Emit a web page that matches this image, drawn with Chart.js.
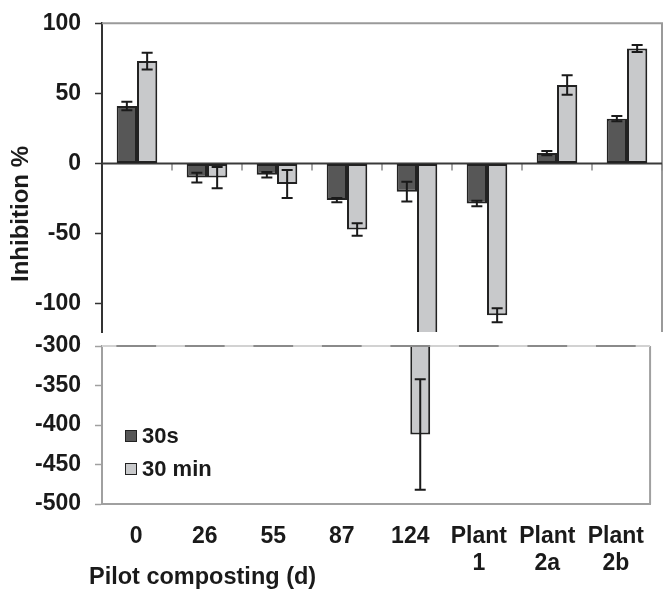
<!DOCTYPE html>
<html lang="en">
<head>
    <meta charset="UTF-8">
    <title>Inhibition % - pilot composting</title>
    <script src="https://cdn.jsdelivr.net/npm/chart.js"></script>
    <style>
        body {
            margin: 0;
            background: #ffffff;
            font-family: "Liberation Sans", Arial, sans-serif;
            font-weight: bold;
            color: #1a1a1a;
        }
        .wrap {
            position: relative;
            width: 663px;
            height: 592px;
        }
        .wrap canvas {
            position: absolute;
            left: 0;
            top: 0;
        }
        .ytitle {
            position: absolute;
            left: 20px;
            top: 214px;
            font-size: 24px;
            white-space: nowrap;
            transform: translate(-50%, -50%) rotate(-90deg);
        }
        .xtitle {
            position: absolute;
            left: 89px;
            top: 563px;
            font-size: 23.5px;
            white-space: nowrap;
        }
        .legend {
            position: absolute;
            left: 125px;
            top: 419px;
            font-size: 22px;
        }
        .legend div {
            height: 33px;
            display: flex;
            align-items: center;
        }
        .legend span.box {
            display: inline-block;
            width: 10px;
            height: 10px;
            border: 1.5px solid #222;
            margin-right: 5px;
        }
    </style>
</head>
<body>
    <div class="wrap">
        <canvas id="topChart" width="663" height="592"></canvas>
        <canvas id="bottomChart" width="663" height="592"></canvas>
        <div class="ytitle">Inhibition %</div>
        <div class="xtitle">Pilot composting (d)</div>
        <div class="legend">
            <div><span class="box" style="background:#575757"></span>30s</div>
            <div><span class="box" style="background:#c8c9cb"></span>30 min</div>
        </div>
    </div>

    <script>
        // data
        const categories = ['0', '26', '55', '87', '124', ['Plant', '1'], ['Plant', '2a'], ['Plant', '2b']];
        const sec30 = [41, -10, -8, -26, -20, -28.5, 7.5, 32];
        const sec30Err = [3, 3.5, 2, 1.5, 7, 2, 1.5, 1.8];
        const min30 = [73, -10, -14.5, -47, -412, -108, 56, 82];
        const min30Err = [6, 7.5, 10, 4.5, 70, 5, 7, 2.5];
        const topTicks = [100, 50, 0, -50, -100];
        const bottomTicks = [-300, -350, -400, -450, -500];

        // small lineHeight so the edge labels don't push the plot area down
        const tickFont = { family: 'Liberation Sans', size: 23, weight: 'bold', lineHeight: 0.8 };

        function makeDatasets() {
            return [
                { label: '30s', data: sec30, errors: sec30Err, backgroundColor: '#575757' },
                { label: '30 min', data: min30, errors: min30Err, backgroundColor: '#c8c9cb' }
            ].map(d => Object.assign(d, {
                borderColor: '#222', borderWidth: 2, borderSkipped: false,
                categoryPercentage: 0.58, barPercentage: 1.0, clip: 0
            }));
        }

        // error bars, drawn from the y scale of each chart
        const errorBars = {
            id: 'errorBars',
            afterDatasetsDraw(chart) {
                const ctx = chart.ctx, y = chart.scales.y, a = chart.chartArea;
                ctx.save();
                ctx.beginPath();
                ctx.rect(a.left, a.top - 1, a.right - a.left, a.bottom - a.top + 2);
                ctx.clip();
                ctx.strokeStyle = '#1a1a1a';
                ctx.lineWidth = 2;
                chart.data.datasets.forEach((ds, di) => {
                    chart.getDatasetMeta(di).data.forEach((bar, i) => {
                        const y1 = y.getPixelForValue(ds.data[i] - ds.errors[i]);
                        const y2 = y.getPixelForValue(ds.data[i] + ds.errors[i]);
                        ctx.beginPath();
                        ctx.moveTo(bar.x, y1); ctx.lineTo(bar.x, y2);
                        ctx.moveTo(bar.x - 5.5, y1); ctx.lineTo(bar.x + 5.5, y1);
                        ctx.moveTo(bar.x - 5.5, y2); ctx.lineTo(bar.x + 5.5, y2);
                        ctx.stroke();
                    });
                });
                ctx.restore();
            }
        };

        // frame + zero line for the upper panel
        const topFrame = {
            id: 'topFrame',
            beforeDatasetsDraw(chart) {
                const ctx = chart.ctx, a = chart.chartArea, x = chart.scales.x, y = chart.scales.y;
                const y0 = y.getPixelForValue(0);
                ctx.save();
                ctx.strokeStyle = '#9a9a9a';
                ctx.lineWidth = 2;
                ctx.beginPath();
                ctx.moveTo(a.left, a.top); ctx.lineTo(a.right, a.top); ctx.lineTo(a.right, a.bottom);
                ctx.stroke();
                // category tick marks under the zero line
                ctx.lineWidth = 1.5;
                ctx.strokeStyle = '#8a8a8a';
                ctx.beginPath();
                for (let i = 0; i < categories.length; i++) {
                    const bx = (x.getPixelForValue(i) + x.getPixelForValue(i + 1)) / 2;
                    ctx.moveTo(bx, y0); ctx.lineTo(bx, y0 + 7);
                }
                ctx.stroke();
                ctx.strokeStyle = '#3a3a3a';
                ctx.lineWidth = 2;
                ctx.beginPath();
                ctx.moveTo(a.left, y0); ctx.lineTo(a.right, y0);
                ctx.stroke();
                ctx.restore();
            }
        };

        // frame for the lower panel; the break line is darker where the bars are cut
        const bottomFrame = {
            id: 'bottomFrame',
            afterDatasetsDraw(chart) {
                const ctx = chart.ctx, a = chart.chartArea;
                const m0 = chart.getDatasetMeta(0).data, m1 = chart.getDatasetMeta(1).data;
                ctx.save();
                ctx.lineWidth = 2;
                ctx.strokeStyle = '#a0a0a0';
                ctx.beginPath();
                ctx.moveTo(a.right, a.top); ctx.lineTo(a.right, a.bottom);
                ctx.stroke();
                ctx.strokeStyle = '#d2d2d2';
                ctx.beginPath();
                ctx.moveTo(a.left, a.top); ctx.lineTo(a.right, a.top);
                ctx.stroke();
                ctx.strokeStyle = '#8a8a8a';
                ctx.beginPath();
                m0.forEach((b, i) => {
                    ctx.moveTo(b.x - b.width / 2, a.top);
                    ctx.lineTo(m1[i].x + m1[i].width / 2, a.top);
                });
                ctx.stroke();
                ctx.restore();
            }
        };

        const keepTicks = list => scale => {
            scale.ticks = list.map(v => ({ value: v }));
        };

        new Chart(document.getElementById('topChart'), {
            type: 'bar',
            data: { labels: categories, datasets: makeDatasets() },
            options: {
                responsive: false,
                animation: false,
                layout: { padding: { top: 23, bottom: 260, left: 0, right: 1 } },
                plugins: { legend: { display: false }, tooltip: { enabled: false } },
                scales: {
                    x: { display: false },
                    y: {
                        min: -120, max: 100,
                        afterBuildTicks: keepTicks(topTicks),
                        afterFit: s => { s.width = 102; },
                        border: { color: '#333', width: 2 },
                        grid: { drawOnChartArea: false, tickLength: 7, tickColor: '#333', tickWidth: 1.5 },
                        ticks: { font: tickFont, color: '#1a1a1a', padding: 14 }
                    }
                }
            },
            plugins: [topFrame, errorBars]
        });

        new Chart(document.getElementById('bottomChart'), {
            type: 'bar',
            data: { labels: categories, datasets: makeDatasets() },
            options: {
                responsive: false,
                animation: false,
                layout: { padding: { top: 346, bottom: 0, left: 0, right: 1 } },
                plugins: { legend: { display: false }, tooltip: { enabled: false } },
                scales: {
                    x: {
                        afterFit: s => { s.height = 88; },
                        border: { color: '#a0a0a0', width: 2 },
                        grid: { display: false, drawTicks: false },
                        ticks: {
                            font: { family: 'Liberation Sans', size: 23, weight: 'bold', lineHeight: 1.17 },
                            color: '#1a1a1a', padding: 19, maxRotation: 0, autoSkip: false
                        }
                    },
                    y: {
                        min: -500, max: -300,
                        afterBuildTicks: keepTicks(bottomTicks),
                        afterFit: s => { s.width = 102; },
                        border: { color: '#a0a0a0', width: 2 },
                        grid: { drawOnChartArea: false, tickLength: 7, tickColor: '#a0a0a0', tickWidth: 1.5 },
                        ticks: { font: tickFont, color: '#1a1a1a', padding: 14 }
                    }
                }
            },
            plugins: [errorBars, bottomFrame]
        });
    </script>
</body>
</html>
